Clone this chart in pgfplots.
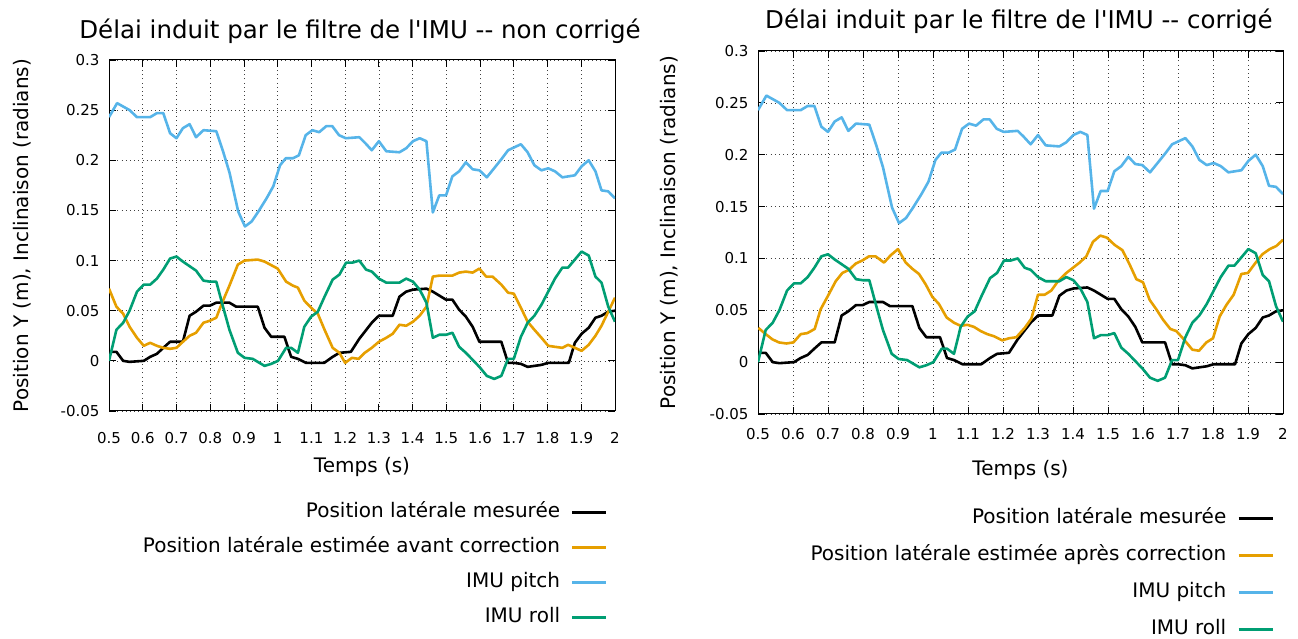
\documentclass[border=0pt]{standalone}
\usepackage{fontspec}
\newfontfamily\dvsans{DejaVu Sans}
\usepackage{pgfplots}
\pgfplotsset{compat=1.18}
\usepackage{pgfplotstable}

\definecolor{gporange}{RGB}{230,159,0}
\definecolor{gpblue}{RGB}{86,180,233}
\definecolor{gpgreen}{RGB}{0,158,115}

% position laterale mesuree
\pgfplotstableread{
t y
0.500 0.009
0.522 0.009
0.542 0.000
0.561 -0.001
0.603 0.000
0.622 0.004
0.642 0.007
0.661 0.013
0.681 0.019
0.719 0.019
0.739 0.045
0.758 0.049
0.780 0.055
0.799 0.055
0.818 0.058
0.857 0.058
0.877 0.054
0.941 0.054
0.961 0.033
0.981 0.024
1.020 0.024
1.040 0.004
1.060 0.002
1.084 -0.002
1.138 -0.002
1.163 0.004
1.183 0.008
1.217 0.009
1.242 0.022
1.279 0.038
1.300 0.045
1.341 0.045
1.361 0.064
1.381 0.069
1.401 0.071
1.441 0.072
1.460 0.069
1.499 0.061
1.518 0.061
1.538 0.051
1.558 0.044
1.578 0.034
1.598 0.019
1.663 0.019
1.683 -0.002
1.700 -0.002
1.721 -0.003
1.741 -0.006
1.782 -0.004
1.802 -0.002
1.863 -0.002
1.881 0.018
1.901 0.027
1.922 0.033
1.942 0.043
1.960 0.045
1.980 0.049
2.000 0.050
}\mesure

% IMU pitch
\pgfplotstableread{
t y
0.500 0.243
0.524 0.257
0.561 0.250
0.583 0.243
0.622 0.243
0.642 0.247
0.661 0.247
0.681 0.227
0.700 0.222
0.719 0.232
0.739 0.236
0.758 0.223
0.780 0.230
0.818 0.229
0.838 0.209
0.857 0.188
0.883 0.149
0.903 0.134
0.923 0.139
0.943 0.149
0.967 0.162
0.987 0.174
1.007 0.195
1.024 0.202
1.045 0.202
1.063 0.205
1.083 0.225
1.103 0.230
1.123 0.228
1.144 0.234
1.162 0.234
1.182 0.225
1.202 0.222
1.242 0.223
1.260 0.217
1.279 0.210
1.300 0.219
1.322 0.209
1.361 0.208
1.381 0.212
1.401 0.219
1.421 0.222
1.441 0.219
1.460 0.148
1.479 0.165
1.499 0.165
1.518 0.184
1.538 0.189
1.558 0.198
1.578 0.191
1.598 0.190
1.620 0.183
1.644 0.193
1.663 0.201
1.683 0.210
1.721 0.216
1.741 0.208
1.761 0.195
1.782 0.190
1.802 0.192
1.822 0.189
1.844 0.183
1.881 0.185
1.901 0.194
1.922 0.200
1.942 0.189
1.960 0.170
1.980 0.169
2.000 0.162
}\pitch

% IMU roll
\pgfplotstableread{
t y
0.500 0.000
0.522 0.031
0.542 0.038
0.561 0.050
0.583 0.069
0.603 0.076
0.622 0.076
0.642 0.082
0.661 0.091
0.681 0.102
0.700 0.104
0.719 0.099
0.758 0.090
0.780 0.080
0.799 0.079
0.818 0.079
0.838 0.054
0.857 0.031
0.882 0.008
0.902 0.003
0.926 0.002
0.961 -0.005
0.981 -0.003
1.001 0.000
1.025 0.013
1.040 0.013
1.060 0.008
1.079 0.034
1.099 0.044
1.119 0.049
1.139 0.064
1.163 0.081
1.183 0.086
1.203 0.098
1.222 0.098
1.242 0.100
1.262 0.091
1.279 0.089
1.300 0.082
1.322 0.078
1.361 0.078
1.381 0.082
1.401 0.079
1.421 0.071
1.441 0.058
1.460 0.023
1.479 0.026
1.499 0.026
1.518 0.028
1.538 0.014
1.558 0.008
1.578 0.001
1.598 -0.006
1.620 -0.015
1.642 -0.018
1.663 -0.015
1.683 0.002
1.700 0.002
1.721 0.024
1.741 0.038
1.761 0.045
1.782 0.056
1.802 0.069
1.822 0.082
1.844 0.093
1.861 0.093
1.881 0.101
1.901 0.109
1.922 0.105
1.942 0.084
1.960 0.078
1.980 0.054
2.000 0.039
}\roll

% estimation avant correction
\pgfplotstableread{
t y
0.500 0.072
0.522 0.054
0.542 0.047
0.561 0.034
0.583 0.023
0.603 0.015
0.622 0.018
0.642 0.015
0.661 0.013
0.681 0.012
0.700 0.013
0.719 0.019
0.739 0.025
0.758 0.028
0.780 0.038
0.799 0.040
0.818 0.043
0.838 0.060
0.857 0.075
0.882 0.096
0.902 0.100
0.941 0.101
0.961 0.099
1.000 0.092
1.025 0.079
1.045 0.075
1.060 0.073
1.079 0.060
1.099 0.053
1.119 0.047
1.139 0.031
1.163 0.013
1.183 0.008
1.200 -0.002
1.220 0.003
1.240 0.002
1.258 0.008
1.279 0.013
1.300 0.019
1.322 0.023
1.341 0.027
1.361 0.036
1.381 0.035
1.401 0.039
1.421 0.045
1.441 0.054
1.460 0.084
1.479 0.085
1.518 0.085
1.538 0.088
1.558 0.089
1.578 0.088
1.598 0.092
1.618 0.084
1.637 0.084
1.663 0.076
1.683 0.068
1.700 0.067
1.721 0.053
1.741 0.039
1.761 0.031
1.782 0.023
1.802 0.015
1.822 0.014
1.844 0.013
1.861 0.016
1.881 0.013
1.901 0.010
1.922 0.016
1.942 0.025
1.960 0.035
1.980 0.049
2.000 0.063
}\avant

% estimation apres correction
\pgfplotstableread{
t y
0.501 0.033
0.522 0.027
0.541 0.022
0.560 0.019
0.581 0.018
0.601 0.019
0.622 0.027
0.641 0.028
0.662 0.032
0.679 0.051
0.700 0.064
0.722 0.078
0.741 0.086
0.760 0.089
0.779 0.095
0.798 0.098
0.817 0.102
0.836 0.102
0.860 0.096
0.879 0.103
0.900 0.109
0.922 0.096
0.941 0.090
0.960 0.085
0.979 0.075
0.998 0.063
1.017 0.056
1.039 0.043
1.060 0.038
1.079 0.035
1.098 0.036
1.117 0.034
1.136 0.030
1.155 0.027
1.174 0.025
1.198 0.021
1.217 0.023
1.238 0.024
1.262 0.033
1.281 0.042
1.300 0.065
1.319 0.065
1.338 0.069
1.357 0.078
1.381 0.086
1.400 0.091
1.419 0.096
1.438 0.102
1.457 0.116
1.478 0.122
1.497 0.120
1.519 0.113
1.541 0.108
1.562 0.094
1.581 0.080
1.600 0.077
1.619 0.060
1.638 0.051
1.657 0.041
1.678 0.032
1.695 0.030
1.714 0.023
1.741 0.012
1.760 0.011
1.781 0.019
1.800 0.023
1.819 0.044
1.838 0.055
1.859 0.065
1.881 0.085
1.900 0.086
1.922 0.096
1.941 0.104
1.962 0.109
1.981 0.112
2.000 0.118
}\apres

\pgfplotsset{
  delai/.style={
    scale only axis,
    xmin=0.5, xmax=2, ymin=-0.05, ymax=0.3,
    xtick={0.5,0.6,0.7,0.8,0.9,1,1.1,1.2,1.3,1.4,1.5,1.6,1.7,1.8,1.9,2},
    xticklabels={0.5,0.6,0.7,0.8,0.9,1,1.1,1.2,1.3,1.4,1.5,1.6,1.7,1.8,1.9,2},
    ytick={-0.05,0,0.05,0.1,0.15,0.2,0.25,0.3},
    yticklabels={-0.05,0,0.05,0.1,0.15,0.2,0.25,0.3},
    tick align=inside, xtick pos=both, ytick pos=both,
    xticklabel pos=lower, yticklabel pos=left,
    major tick length=7pt,
    grid=major,
    major grid style={black!75, line width=0.7pt, dash pattern=on 0.8pt off 3.4pt},
    axis line style={line width=1pt},
    every tick/.style={black, line width=0.8pt},
    tick label style={font=\fontsize{15}{18}\selectfont},
    yticklabel style={xshift=-6pt},
    label style={font=\fontsize{20}{24}\selectfont},
    title style={font=\fontsize{24.5}{29}\selectfont, anchor=center},
    legend cell align=right, legend plot pos=right,
    legend image code/.code={\draw[##1] (0pt,0pt) -- (34pt,0pt);},
    legend style={draw=none, fill=none, inner sep=0pt, anchor=north east,
      row sep=11pt,
      /tikz/every odd column/.append style={column sep=9pt},
      nodes={inner sep=2pt, text height=15pt, text depth=5pt},
      font=\fontsize{20}{24}\selectfont},
    every axis plot/.append style={line width=2.6pt, line join=round},
  }
}

\begin{document}
\dvsans
\begin{tikzpicture}
\useasboundingbox (0,0) rectangle (1298pt,639pt);

\begin{axis}[delai,
  at={(109pt,228pt)}, anchor=south west,
  width=506pt, height=351pt,
  xticklabel style={yshift=-18pt},
  title={Délai induit par le filtre de l'IMU -- non corrigé},
  title style={at={(axis description cs:0.496,1.065)}},
  xlabel={Temps (s)},
  xlabel style={at={(axis description cs:0.5,-0.160)}, anchor=center},
  ylabel={Position Y (m), Inclinaison (radians)},
  ylabel style={at={(axis description cs:-0.172,0.5)}, anchor=center},
  legend style={at={(axis description cs:0.986,-0.254)}},
]
\addplot[black] table[x=t, y=y] {\mesure};
\addplot[gporange] table[x=t, y=y] {\avant};
\addplot[gpblue] table[x=t, y=y] {\pitch};
\addplot[gpgreen] table[x=t, y=y] {\roll};
\legend{Position latérale mesurée, Position latérale estimée avant correction, IMU pitch, IMU roll}
\end{axis}

\begin{axis}[delai,
  at={(758pt,225pt)}, anchor=south west,
  width=525pt, height=363pt,
  xticklabel style={yshift=-11pt},
  title={Délai induit par le filtre de l'IMU -- corrigé},
  title style={at={(axis description cs:0.497,1.066)}},
  xlabel={Temps (s)},
  xlabel style={at={(axis description cs:0.5,-0.155)}, anchor=center},
  ylabel={Position Y (m), Inclinaison (radians)},
  ylabel style={at={(axis description cs:-0.170,0.5)}, anchor=center},
  legend style={at={(axis description cs:0.983,-0.254)}, row sep=13pt},
]
\addplot[black] table[x=t, y=y] {\mesure};
\addplot[gporange] table[x=t, y=y] {\apres};
\addplot[gpblue] table[x=t, y=y] {\pitch};
\addplot[gpgreen] table[x=t, y=y] {\roll};
\legend{Position latérale mesurée, Position latérale estimée après correction, IMU pitch, IMU roll}
\end{axis}
\end{tikzpicture}
\end{document}
